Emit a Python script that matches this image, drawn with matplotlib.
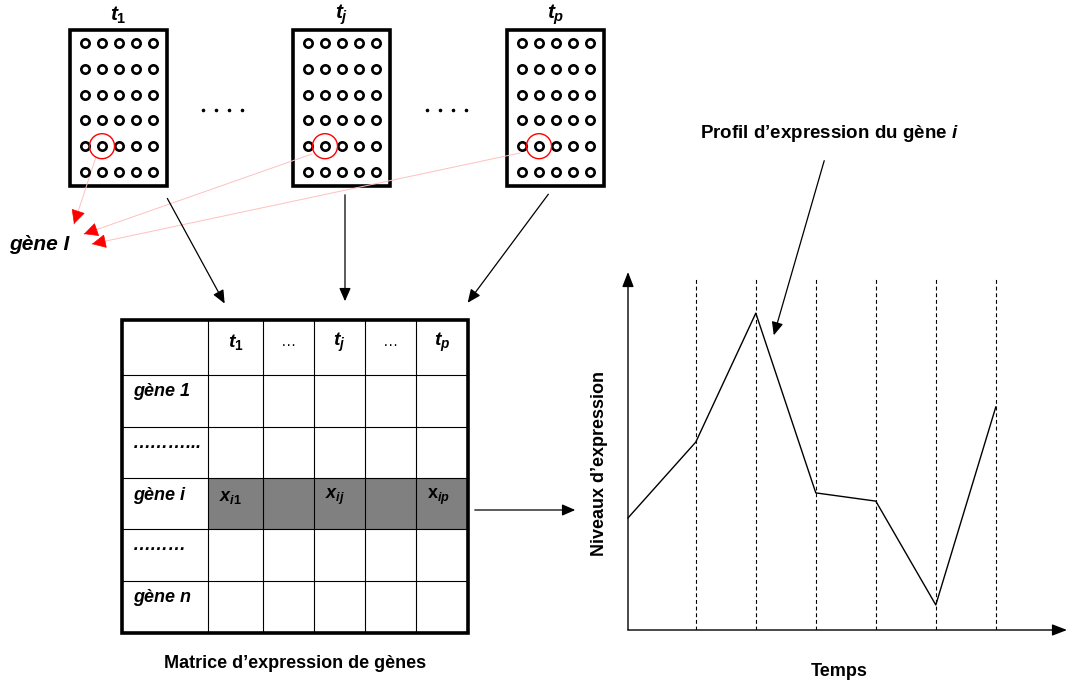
import numpy as np
import matplotlib
matplotlib.use("Agg")
import matplotlib.pyplot as plt
from matplotlib.patches import Rectangle, Circle

plt.rcParams['font.family'] = ['Liberation Sans', 'DejaVu Sans']
plt.rcParams['mathtext.fontset'] = 'custom'
plt.rcParams['mathtext.rm'] = 'Liberation Sans:bold'
plt.rcParams['mathtext.it'] = 'Liberation Sans:italic:bold'
plt.rcParams['mathtext.bf'] = 'Liberation Sans:bold'

# --- data -----------------------------------------------------------------
chip_titles = [r'$t_{\mathit{1}}$', r'$t_j$', r'$t_p$']
spot_rows, spot_cols = 6, 5
gene_spot = (4, 1)          # (row, col) of gene i on each chip

col_labels = [r'$t_{\mathit{1}}$', '…', r'$t_j$', '…', r'$t_p$']
row_labels = ['gène 1', '………...', 'gène i', '………', 'gène n']
cell_labels = {0: r'$x_{i1}$', 2: r'$x_{ij}$', 4: r'$\mathrm{x}_{ip}$'}
highlight_row = 2

profile_times = [0, 1.13, 2.13, 3.13, 4.13, 5.13, 6.13]
profile_values = [3.13, 5.25, 8.85, 3.83, 3.6, 0.7, 6.23]
grid_top = 9.83

# --- canvas (pixel layout) ------------------------------------------------
fig = plt.figure(figsize=(10.67, 6.86), dpi=100)
ax = fig.add_axes([0, 0, 1, 1])
ax.set_xlim(0, 1067)
ax.set_ylim(686, 0)
ax.axis('off')

# chips
chip_x0 = [70, 293, 507]
chip_y0, chip_w, chip_h = 30, 97, 156
spot_dx, spot_dy = 17, 25.8
for x0, title in zip(chip_x0, chip_titles):
    ax.add_patch(Rectangle((x0, chip_y0), chip_w, chip_h, fc='white',
                           ec='black', lw=2.6))
    xs = x0 + 15 + spot_dx * np.arange(spot_cols)
    ys = chip_y0 + 13 + spot_dy * np.arange(spot_rows)
    gx, gy = np.meshgrid(xs, ys)
    ax.scatter(gx.ravel(), gy.ravel(), s=36, facecolors='white',
               edgecolors='black', linewidths=1.9, zorder=3)
    cx, cy = xs[gene_spot[1]], ys[gene_spot[0]]
    ax.add_patch(Circle((cx, cy), 12.5, fc='none', ec='red', lw=1, zorder=4))
    ax.text(x0 + chip_w / 2, 15, title, ha='center', va='center',
            fontsize=15)

for xd in (203, 427):
    ax.scatter(xd + 13 * np.arange(4), [110] * 4, s=2.5, color='black')

# pink lines to "gène I"
pink_lines = [((96, 157), (74, 224)), ((312, 154), (84, 234)),
              ((520, 153), (92, 244))]
for (x1, y1), (x2, y2) in pink_lines:
    ax.plot([x1, x2], [y1, y2], color='#ffc0c0', lw=0.7)
    d = np.array([x2 - x1, y2 - y1], dtype=float)
    d /= np.hypot(*d)
    ax.annotate('', xy=(x2, y2), xytext=(x2 - 3 * d[0], y2 - 3 * d[1]),
                arrowprops=dict(arrowstyle='-|>,head_length=0.9,head_width=0.45',
                                color='red', lw=0.5, mutation_scale=10))
ax.text(9, 244, 'gène I', ha='left', va='center', fontsize=15,
        fontweight='bold', fontstyle='italic')

# black arrows chips -> matrix
arrow_kw = dict(arrowstyle='-|>,head_length=0.8,head_width=0.35',
                color='black', lw=0.9, mutation_scale=10)
for start, end in [((166, 196), (226, 306)), ((345, 192), (345, 304)),
                   ((550, 192), (466, 305))]:
    ax.annotate('', xy=end, xytext=start, arrowprops=arrow_kw)

# matrix
col_edges = [122, 208, 263, 314, 365, 416, 468]
row_edges = [320, 375, 427, 478, 529, 581, 633]
ax.add_patch(Rectangle((col_edges[1], row_edges[highlight_row + 1]),
                       col_edges[-1] - col_edges[1],
                       row_edges[highlight_row + 2] - row_edges[highlight_row + 1],
                       fc='#808080', ec='none'))
for x in col_edges[1:-1]:
    ax.plot([x, x], [row_edges[0], row_edges[-1]], color='black', lw=0.8)
for y in row_edges[1:-1]:
    ax.plot([col_edges[0], col_edges[-1]], [y, y], color='black', lw=0.8)
ax.add_patch(Rectangle((col_edges[0], row_edges[0]),
                       col_edges[-1] - col_edges[0],
                       row_edges[-1] - row_edges[0],
                       fc='none', ec='black', lw=2.6))
for k, lab in enumerate(col_labels):
    xc = (col_edges[k + 1] + col_edges[k + 2]) / 2
    ax.text(xc, 342, lab, ha='center', va='center',
            fontsize=14 if lab.startswith('$') else 11)
for k, lab in enumerate(row_labels):
    ax.text(133, row_edges[k + 1] + 17, lab, ha='left', va='center',
            fontsize=13, fontweight='bold', fontstyle='italic')
for k, lab in cell_labels.items():
    ax.text(col_edges[k + 1] + 11, row_edges[highlight_row + 1] + 19, lab,
            ha='left', va='center', fontsize=13)
ax.text(295, 663, "Matrice d’expression de gènes", ha='center', va='center',
        fontsize=13, fontweight='bold')

ax.annotate('', xy=(578, 510), xytext=(472, 510), arrowprops=arrow_kw)

# profile chart
ax2 = fig.add_axes([628 / 1067, (686 - 630) / 686, (1067 - 628) / 1067,
                    (630 - 272) / 686])
ax2.set_facecolor('none')
ax2.set_xlim(0, (1067 - 628) / 60)
ax2.set_ylim(0, 10)
for s in ax2.spines.values():
    s.set_visible(False)
ax2.set_xticks([])
ax2.set_yticks([])
ax2.vlines(profile_times[1:], 0, grid_top, colors='black', lw=0.8,
           linestyles=(0, (3.5, 2.5)))
ax2.plot(profile_times, profile_values, color='black', lw=1, clip_on=False)
axis_kw = dict(arrowstyle='-|>,head_length=0.9,head_width=0.35',
               color='black', lw=1, mutation_scale=10, shrinkA=0, shrinkB=0)
ax2.annotate('', xy=(0, 1.0), xytext=(0, 0), xycoords='axes fraction',
             arrowprops=axis_kw)
ax2.annotate('', xy=(1.0, 0), xytext=(0, 0), xycoords='axes fraction',
             arrowprops=axis_kw)

ax.text(599, 463, "Niveaux d’expression", rotation=90, ha='center',
        va='center', fontsize=13, fontweight='bold')
ax.text(839, 672, 'Temps', ha='center', va='center', fontsize=13,
        fontweight='bold')
ax.text(829, 133, r"Profil d’expression du gène $i$", ha='center',
        va='center', fontsize=13.5, fontweight='bold')
ax.annotate('', xy=(773, 338), xytext=(825, 158), arrowprops=arrow_kw)

fig.savefig('out.png', dpi=100)
